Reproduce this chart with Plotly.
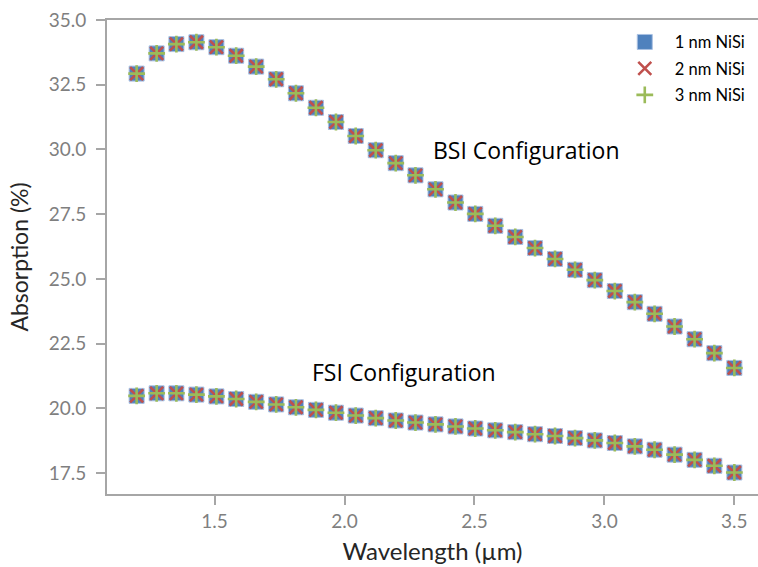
import plotly.graph_objects as go

wavelength = [1.200, 1.277, 1.353, 1.430, 1.507, 1.583, 1.660, 1.737, 1.813, 1.890,
              1.967, 2.043, 2.120, 2.197, 2.273, 2.350, 2.427, 2.503, 2.580, 2.657,
              2.733, 2.810, 2.887, 2.963, 3.040, 3.117, 3.193, 3.270, 3.347, 3.423, 3.500]

bsi = [32.93, 33.71, 34.07, 34.14, 33.95, 33.62, 33.20, 32.71, 32.17, 31.61,
       31.06, 30.52, 29.97, 29.47, 29.00, 28.46, 27.95, 27.51, 27.05, 26.62,
       26.19, 25.77, 25.35, 24.95, 24.53, 24.10, 23.65, 23.16, 22.67, 22.13, 21.56]

fsi = [20.48, 20.58, 20.58, 20.53, 20.46, 20.36, 20.25, 20.15, 20.04, 19.94,
       19.83, 19.72, 19.62, 19.53, 19.45, 19.38, 19.30, 19.22, 19.15, 19.08,
       19.00, 18.93, 18.85, 18.76, 18.66, 18.53, 18.40, 18.21, 18.01, 17.78, 17.52]

series_names = ["1 nm NiSi", "2 nm NiSi", "3 nm NiSi"]
x_ticks = [1.5, 2.0, 2.5, 3.0, 3.5]
y_ticks = [17.5, 20.0, 22.5, 25.0, 27.5, 30.0, 32.5, 35.0]

FONT = "Lato"
ANN_FONT = "Open Sans"
x_all = wavelength + [None] + wavelength
y_all = bsi + [None] + fsi

marker_styles = [
    dict(symbol="square", size=15, color="#4F81BD", line=dict(color="#A9C0E2", width=1)),
    dict(symbol="x-thin", size=13, color="#C0504D", line=dict(color="#C0504D", width=2.6)),
    dict(symbol="cross-thin", size=12, color="#9BBB59", line=dict(color="#9BBB59", width=2.6)),
]

fig = go.Figure()
for i, (name, m) in enumerate(zip(series_names, marker_styles)):
    fig.add_trace(go.Scatter(
        x=x_all, y=y_all, mode="markers", name=name, marker=m,
        legendgroup=f"g{i}", connectgaps=False,
    ))

fig.add_annotation(x=2.70, y=29.98, xref="x", yref="y", text="BSI Configuration",
                   showarrow=False, font=dict(family=ANN_FONT, size=23, color="#000000"))
fig.add_annotation(x=2.23, y=21.41, xref="x", yref="y", text="FSI Configuration",
                   showarrow=False, font=dict(family=ANN_FONT, size=23, color="#000000"))

axis_common = dict(
    showgrid=False, zeroline=False, showline=True, linecolor="#A6A6A6", linewidth=2,
    ticks="outside", ticklen=9, tickwidth=2, tickcolor="#A6A6A6",
    tickfont=dict(family=FONT, size=19, color="#7F7F7F"),
)

fig.update_layout(
    width=758, height=567,
    margin=dict(l=107, r=0, t=20, b=73),
    paper_bgcolor="white", plot_bgcolor="white",
    showlegend=True,
    legend=dict(x=0.78, y=0.99, xanchor="left", yanchor="top",
                font=dict(family=FONT, size=16.5, color="#000000"),
                itemwidth=50,
                bgcolor="rgba(0,0,0,0)", tracegroupgap=2),
    xaxis=dict(range=[1.086, 3.591], tickvals=x_ticks, ticktext=[f"{v:.1f}" for v in x_ticks],
               mirror=True,
               title=dict(text="Wavelength (µm)", font=dict(family=FONT, size=24, color="#262626"), standoff=12),
               **axis_common),
    yaxis=dict(range=[16.69, 35.0], tickvals=y_ticks, ticktext=[f"{v:.1f}" for v in y_ticks],
               ticklabelstandoff=6,
               title=dict(text="Absorption (%)", font=dict(family=FONT, size=23, color="#262626"), standoff=14),
               **axis_common),
)

fig.write_html("out.html")
